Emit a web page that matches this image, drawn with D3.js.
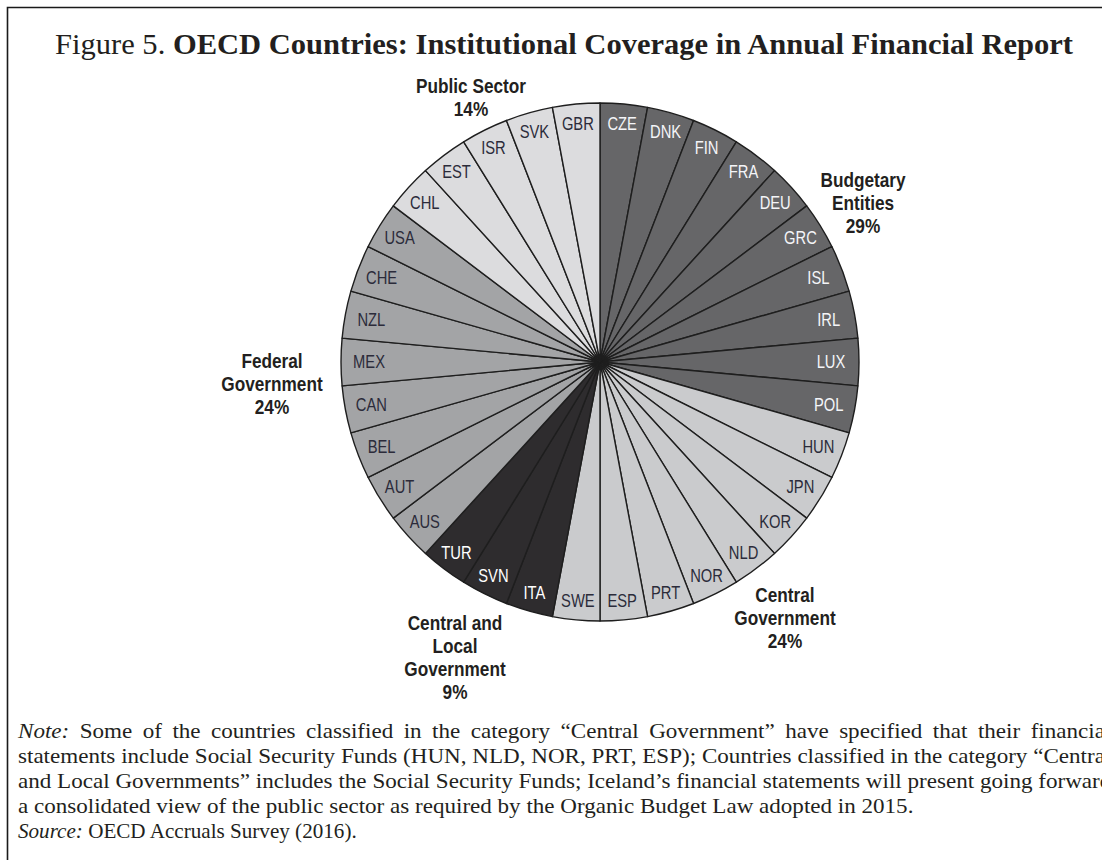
<!DOCTYPE html>
<html>
<head>
<meta charset="utf-8">
<script src="https://cdn.jsdelivr.net/npm/d3@7"></script>
<style>
  html, body { margin: 0; padding: 0; background: #fff; }
  svg { display: block; }
</style>
</head>
<body>
<svg id="chart" width="1102" height="860"></svg>
<script>
// Countries in clockwise order from 12 o'clock, with their reporting coverage
const countries = ["CZE","DNK","FIN","FRA","DEU","GRC","ISL","IRL","LUX","POL",
                   "HUN","JPN","KOR","NLD","NOR","PRT","ESP","SWE",
                   "ITA","SVN","TUR",
                   "AUS","AUT","BEL","CAN","MEX","NZL","CHE","USA",
                   "CHL","EST","ISR","SVK","GBR"];
const countryGroup = ["BE","BE","BE","BE","BE","BE","BE","BE","BE","BE",
                      "CG","CG","CG","CG","CG","CG","CG","CG",
                      "CL","CL","CL",
                      "FG","FG","FG","FG","FG","FG","FG","FG",
                      "PS","PS","PS","PS","PS"];
const groupKeys   = ["BE","CG","CL","FG","PS"];
const groupLines  = [["Budgetary","Entities"],["Central","Government"],["Central and","Local","Government"],["Federal","Government"],["Public Sector"]];
const groupShares = ["29%","24%","9%","24%","14%"];

const fills     = {BE:"#666668", CG:"#cacbcd", CL:"#2e2c2e", FG:"#a3a4a6", PS:"#dcdcde"};
const textFills = {BE:"#f4f5f8", CG:"#2b2b3a", CL:"#ffffff", FG:"#2b2b3a", PS:"#2b2b3a"};
// Where each group's caption sits (centre x, first baseline y)
const groupAnchor = {BE:[863,187], CG:[785,602], CL:[455,630], FG:[272,368], PS:[471,93]};

const svg = d3.select("#chart");
const W = 1102, H = 860;
const cx = 600, cy = 362, R = 259;
const SANS = "'Liberation Sans', Arial, sans-serif";
const SERIF = "'Liberation Serif', 'DejaVu Serif', serif";
const NARROW = 0.82;   // horizontal squeeze giving a condensed sans

// Frame (left and top rules)
svg.append("path")
  .attr("d", `M7.5,${H} L7.5,7.5 L${W},7.5`)
  .attr("fill", "none").attr("stroke", "#1a1a1a").attr("stroke-width", 1.6);

// Title
const title = svg.append("text")
  .attr("x", 55).attr("y", 54)
  .attr("font-family", SERIF)
  .attr("font-size", 29).attr("fill", "#231f20")
  .attr("textLength", 1018).attr("lengthAdjust", "spacingAndGlyphs");
title.append("tspan").text("Figure 5. ");
title.append("tspan").attr("font-weight", "bold").text("OECD Countries: Institutional Coverage in Annual Financial Report");

// Pie
const data = countries.map((c, i) => ({country: c, group: countryGroup[i]}));
const pie = d3.pie().value(() => 1).sort(null).startAngle(0).endAngle(2 * Math.PI);
const arcs = pie(data);
const arc = d3.arc().innerRadius(0).outerRadius(R);

const g = svg.append("g").attr("transform", `translate(${cx},${cy})`);
g.selectAll("path.slice").data(arcs).join("path")
  .attr("class", "slice")
  .attr("d", arc)
  .attr("fill", d => fills[d.data.group])
  .attr("stroke", "#1e1e1e").attr("stroke-width", 1.4).attr("stroke-linejoin", "round");

g.selectAll("g.country").data(arcs).join("g")
  .attr("class", "country")
  .attr("transform", d => {
    const a = (d.startAngle + d.endAngle) / 2;
    const r = 231 + 9 * Math.abs(Math.cos(a));
    return `translate(${r * Math.sin(a)},${-r * Math.cos(a)}) scale(${NARROW},1)`;
  })
  .append("text")
  .attr("dy", "0.36em")
  .attr("text-anchor", "middle")
  .attr("font-family", SANS)
  .attr("font-size", 18)
  .attr("fill", d => textFills[d.data.group])
  .text(d => d.data.country);

// Group captions
groupKeys.forEach((k, i) => {
  const [x, y] = groupAnchor[k];
  const lines = groupLines[i].concat([groupShares[i]]);
  const t = svg.append("g")
    .attr("transform", `translate(${x},${y}) scale(${NARROW},1)`)
    .append("text")
    .attr("text-anchor", "middle")
    .attr("font-family", SANS)
    .attr("font-weight", "bold").attr("font-size", 21).attr("fill", "#231f20");
  lines.forEach((line, j) => {
    t.append("tspan").attr("x", 0).attr("y", j * 23).text(line);
  });
});

// Notes
const noteLines = [
  [["Note:", true], [" Some of the countries classified in the category \u201cCentral Government\u201d have specified that their financial", false]],
  [["statements include Social Security Funds (HUN, NLD, NOR, PRT, ESP); Countries classified in the category \u201cCentral", false]],
  [["and Local Governments\u201d includes the Social Security Funds; Iceland\u2019s financial statements will present going forward", false]],
  [["a consolidated view of the public sector as required by the Organic Budget Law adopted in 2015.", false]],
  [["Source:", true], [" OECD Accruals Survey (2016).", false]]
];
// Line widths: justified lines run on past the right edge; the last two are ragged
const noteTarget = [1094, 1094, 1094, 896, 339];
const noteJustified = [true, true, true, false, false];
const noteG = noteLines.map((parts, i) => {
  const grp = svg.append("g");
  const t = grp.append("text")
    .attr("font-family", SERIF)
    .attr("font-size", 21).attr("fill", "#231f20");
  parts.forEach(([s, it]) => {
    t.append("tspan").attr("font-style", it ? "italic" : "normal").text(s);
  });
  return {grp, t, parts};
});
// Horizontal stretch so the full unjustified line meets its measured width
const sx = noteTarget[3] / noteG[3].t.node().getComputedTextLength();
noteG.forEach(({grp, t, parts}, i) => {
  const natural = t.node().getComputedTextLength();
  const s = noteJustified[i] ? sx : noteTarget[i] / natural;
  grp.attr("transform", `translate(18,${738 + i * 25}) scale(${s},1)`);
  if (noteJustified[i]) {
    const spaces = parts.map(p => p[0]).join("").split(" ").length - 1;
    t.attr("word-spacing", (noteTarget[i] / s - natural) / spaces);
  }
});
</script>
</body>
</html>
